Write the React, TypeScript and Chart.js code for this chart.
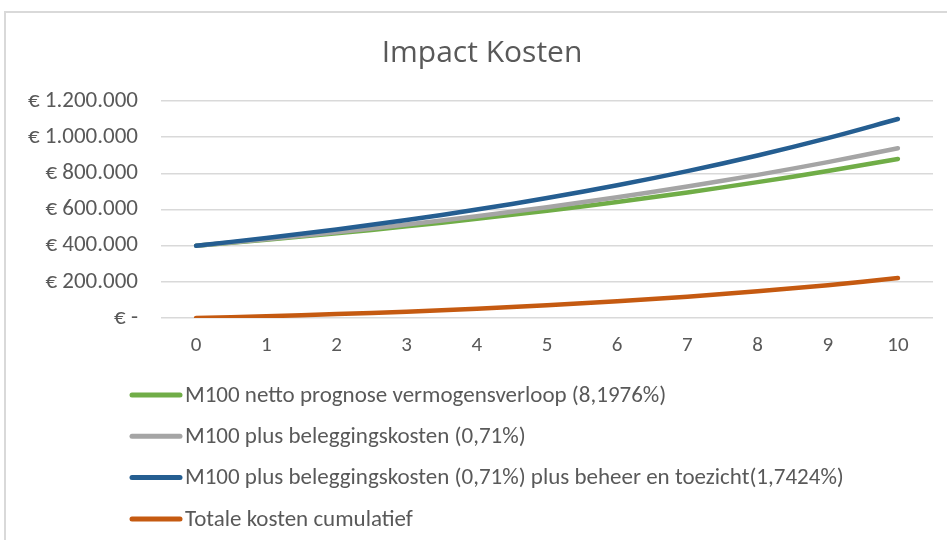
import React, { useEffect, useRef } from 'react';
import { Chart, registerables } from 'chart.js';

Chart.register(...registerables);

const years = ['0', '1', '2', '3', '4', '5', '6', '7', '8', '9', '10'];
const nettoPrognose = [400000, 432790, 468269, 506656, 548189, 593127, 641750, 694358, 751278, 812865, 879501];
const plusBelegging = [400000, 435630, 474435, 516696, 562721, 612846, 667436, 726888, 791636, 862152, 938950];
const plusBeheer = [400000, 442600, 489736, 541893, 599604, 663462, 734121, 812305, 898816, 994540, 1100458];
const totaleKosten = [0, 9810, 21467, 35237, 51415, 70335, 92371, 117947, 147538, 181675, 220957];
const seriesLabels = [
  'M100 netto prognose vermogensverloop (8,1976%)',
  'M100 plus beleggingskosten (0,71%)',
  'M100 plus beleggingskosten (0,71%) plus beheer en toezicht(1,7424%)',
  'Totale kosten cumulatief',
];
const seriesColors = ['#70AD47', '#A5A5A5', '#255E91', '#C55A11'];
const yTickLabels = ['€ -', '€ 200.000', '€ 400.000', '€ 600.000', '€ 800.000', '€ 1.000.000', '€ 1.200.000'];
const chartTitle = 'Impact Kosten';

const TEXT_COLOR = '#595959';
const BODY_FONT = 'Carlito, Lato, "Open Sans", sans-serif';

const legendPlugin = {
  id: 'stackedLegend',
  afterDraw(chart: any) {
    const ctx = chart.ctx;
    ctx.save();
    chart.data.datasets.forEach((ds: any, i: number) => {
      const y = 395 + i * 41.3;
      ctx.strokeStyle = ds.borderColor;
      ctx.lineWidth = 5;
      ctx.lineCap = 'round';
      ctx.beginPath();
      ctx.moveTo(132, y);
      ctx.lineTo(180, y);
      ctx.stroke();
      ctx.fillStyle = TEXT_COLOR;
      ctx.font = `23px ${BODY_FONT}`;
      ctx.textBaseline = 'middle';
      ctx.textAlign = 'left';
      ctx.fillText(ds.label, 185, y + 1);
    });
    ctx.restore();
  },
};

export default function App() {
  const ref = useRef<HTMLCanvasElement | null>(null);
  useEffect(() => {
    if (!ref.current) return;
    const seriesData = [nettoPrognose, plusBelegging, plusBeheer, totaleKosten];
    const chart = new Chart(ref.current, {
      type: 'line',
      data: {
        labels: years,
        datasets: seriesData.map((d, i) => ({
          label: seriesLabels[i],
          data: d,
          borderColor: seriesColors[i],
          backgroundColor: seriesColors[i],
          borderWidth: 4.5,
          borderCapStyle: 'round',
          pointRadius: 0,
          tension: 0.35,
          fill: false,
          order: 4 - i,
        })),
      },
      options: {
        responsive: false,
        animation: false,
        layout: { padding: { left: 20, right: 3, top: 10, bottom: 182 } },
        plugins: {
          legend: { display: false },
          tooltip: { enabled: false },
          title: {
            display: true,
            text: chartTitle,
            color: TEXT_COLOR,
            font: { family: '"Open Sans", sans-serif', size: 30, weight: 'normal' },
            padding: { top: 25, bottom: 30 },
          },
        },
        scales: {
          x: {
            offset: true,
            grid: { display: false, drawTicks: false },
            border: { display: false },
            ticks: { color: TEXT_COLOR, font: { family: BODY_FONT, size: 21 }, padding: 15, maxRotation: 0 },
            afterFit: (s: any) => { s.height = 40; },
          },
          y: {
            min: 0,
            max: 1200000,
            grid: { color: '#D9D9D9', lineWidth: 1.4, drawTicks: false },
            border: { display: false },
            ticks: {
              stepSize: 200000,
              color: TEXT_COLOR,
              font: { family: BODY_FONT, size: 23 },
              padding: 23,
              callback: (_v: any, idx: number) => yTickLabels[idx],
            },
            afterFit: (s: any) => { s.width = 141; },
          },
          yRight: {
            position: 'right',
            min: 0,
            max: 1200000,
            grid: { display: false, drawTicks: false },
            border: { display: false },
            ticks: { display: false },
            afterFit: (s: any) => { s.width = 11; },
          },
        },
      },
      plugins: [legendPlugin],
    });
    return () => chart.destroy();
  }, []);

  return (
    <div style={{ position: 'absolute', left: 0, top: 0, width: 947, height: 540, background: '#fff', overflow: 'hidden' }}>
      <div
        style={{
          position: 'absolute',
          left: 4,
          top: 11,
          width: 960,
          height: 560,
          borderLeft: '2px solid #D9D9D9',
          borderTop: '2px solid #D9D9D9',
        }}
      />
      <canvas ref={ref} width={947} height={540} style={{ position: 'absolute', left: 0, top: 0 }} />
    </div>
  );
}
